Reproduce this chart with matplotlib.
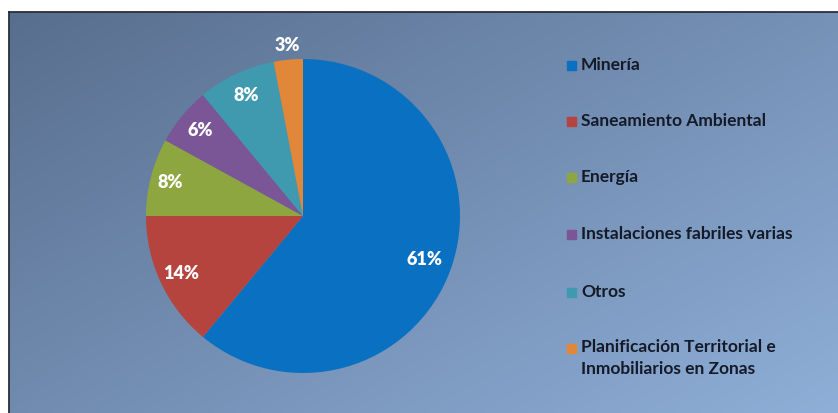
import matplotlib
matplotlib.use("Agg")

import numpy as np
import matplotlib.pyplot as plt
from matplotlib.patches import Rectangle
from matplotlib.lines import Line2D

# datos del gráfico
sectores = ["Minería", "Saneamiento Ambiental", "Energía",
            "Instalaciones fabriles varias", "Otros",
            "Planificación Territorial e\nInmobiliarios en Zonas"]
porcentajes = [61, 14, 8, 6, 8, 3]
colores = ["#0A70C2", "#B6443E", "#8DA63F", "#7A5696", "#3F9AB0", "#E0873A"]
dist_etiqueta = [0.82, 0.86, 0.87, 0.85, 0.85, 1.09]

W, H = 838, 413
fig = plt.figure(figsize=(W / 100, H / 100), dpi=100, facecolor="white")
plt.rcParams["font.family"] = ["Lato", "DejaVu Sans"]

# fondo con degradado diagonal
x0, y_top = 9, 12
bg = fig.add_axes([x0 / W, 0, 1 - x0 / W, 1 - y_top / H])
gx, gy = np.meshgrid(np.linspace(0, 1, 400), np.linspace(0, 1, 200))
t = 0.55 * gx + 0.45 * gy
c0 = np.array([88, 110, 142]) / 255
c1 = np.array([143, 175, 216]) / 255
img = c0[None, None, :] * (1 - t[..., None]) + c1[None, None, :] * t[..., None]
bg.imshow(img, aspect="auto", extent=[0, 1, 1, 0])
bg.set_xlim(0, 1); bg.set_ylim(1, 0)
bg.axis("off")
# borde oscuro arriba e izquierda
fig.add_artist(Line2D([x0 / W, 1], [1 - y_top / H] * 2, color="#2a2f38", lw=1.3))
fig.add_artist(Line2D([x0 / W] * 2, [0, 1 - y_top / H], color="#2a2f38", lw=1.3))

# torta
cx, cy, r = 303, 216, 157
ax = fig.add_axes([(cx - r) / W, (H - cy - r) / H, 2 * r / W, 2 * r / H])
wedges, _ = ax.pie(porcentajes, colors=colores, startangle=90,
                   counterclock=False, radius=1,
                   wedgeprops=dict(linewidth=0))
ax.set_xlim(-1, 1); ax.set_ylim(-1, 1)
ax.set_aspect("equal")
ax.axis("off")

for w, p, d in zip(wedges, porcentajes, dist_etiqueta):
    ang = np.deg2rad((w.theta1 + w.theta2) / 2)
    ax.text(d * np.cos(ang), d * np.sin(ang), f"{p}%", ha="center", va="center",
            color="white", fontsize=13, fontweight="heavy", clip_on=False)

# leyenda manual
ley_y = [65, 121, 177, 234, 292, 348]
for s, c, y in zip(sectores, colores, ley_y):
    fig.add_artist(Rectangle((567 / W, (H - y - 4.5) / H), 9 / W, 9 / H,
                             color=c, transform=fig.transFigure))
    if "\n" in s:
        fig.text(581 / W, (H - y + 9) / H, s, ha="left", va="top",
                 fontsize=12.5, fontweight="bold", color="#141a28", linespacing=1.5)
    else:
        fig.text(581 / W, (H - y) / H, s, ha="left", va="center",
                 fontsize=12.5, fontweight="bold", color="#141a28")

fig.savefig("out.png", dpi=100, facecolor="white")
